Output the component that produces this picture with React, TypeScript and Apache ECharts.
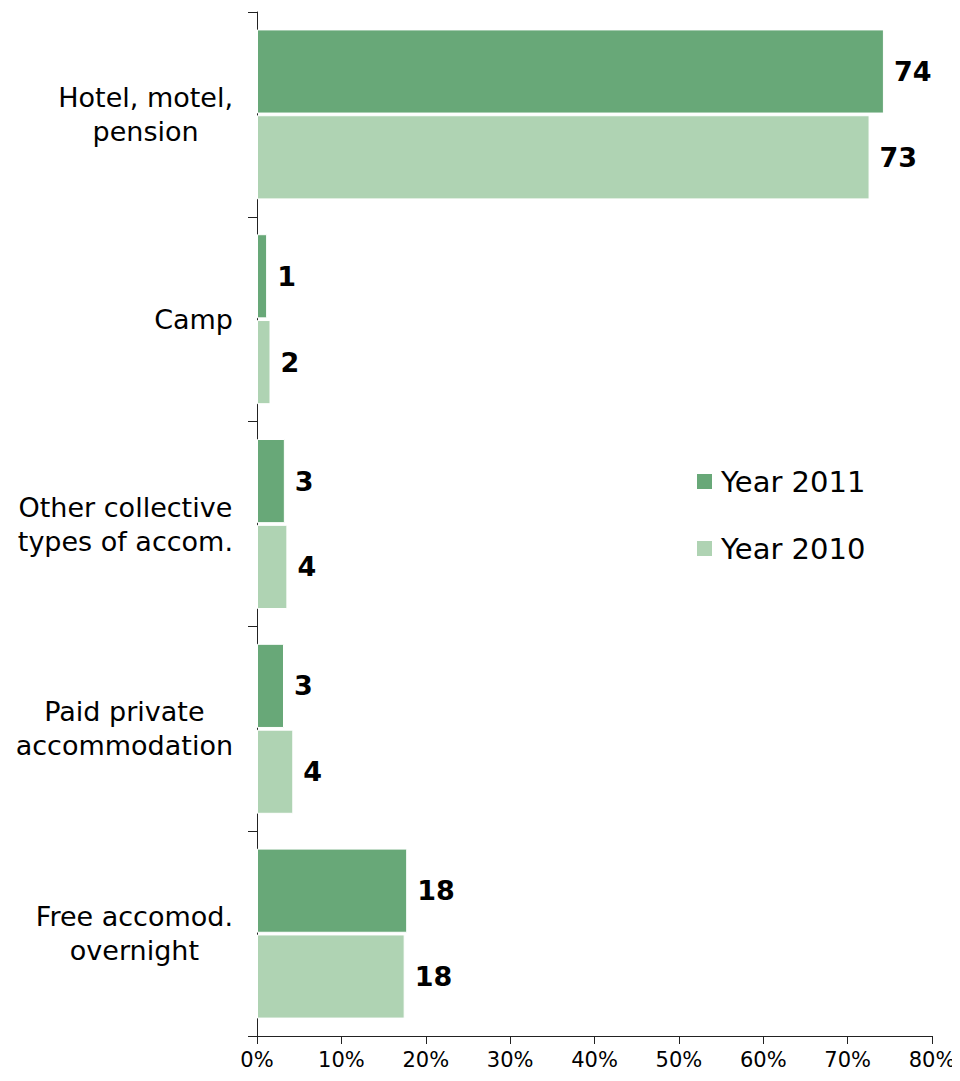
import React, { useEffect, useRef } from "react";
import * as echarts from "echarts";

const categories = [
  "Hotel, motel,\npension",
  "Camp",
  "Other collective\ntypes of accom.",
  "Paid private\naccommodation",
  "Free accomod.\novernight",
];
const year2011 = [74.3, 1.2, 3.3, 3.2, 17.8];
const year2010 = [72.6, 1.6, 3.6, 4.3, 17.5];
const xTicks = [0, 10, 20, 30, 40, 50, 60, 70, 80];

const FONT = "DejaVu Sans, Verdana, sans-serif";

export default function App() {
  const ref = useRef<HTMLDivElement>(null);
  useEffect(() => {
    if (!ref.current) return;
    const chart = echarts.init(ref.current, undefined, { renderer: "svg" });
    const labelOpt = {
      show: true,
      position: "right",
      distance: 10,
      fontFamily: FONT,
      fontSize: 27,
      fontWeight: "bold",
      color: "#000",
      formatter: (p: any) => String(Math.round(p.value)),
    };
    chart.setOption({
      animation: false,
      textStyle: { fontFamily: FONT },
      grid: { left: 249, right: 28, top: 4, bottom: 37, outerBoundsMode: "none", containLabel: false },
      legend: {
        orient: "vertical",
        left: 682,
        top: 454,
        itemWidth: 17,
        itemHeight: 17,
        itemGap: 38,
        icon: "rect",
        textStyle: { fontFamily: FONT, fontSize: 29, color: "#000", padding: [0, 0, 0, 3] },
        data: ["Year 2011", "Year 2010"],
      },
      xAxis: {
        type: "value",
        min: xTicks[0],
        max: xTicks[xTicks.length - 1],
        interval: 10,
        splitLine: { show: false },
        axisLine: { show: true, lineStyle: { color: "#222", width: 1 } },
        axisTick: { show: true, length: 8, lineStyle: { color: "#222" } },
        axisLabel: {
          fontFamily: FONT,
          fontSize: 21,
          color: "#000",
          margin: 13,
          formatter: (v: number) => v + "%",
        },
      },
      yAxis: {
        type: "category",
        inverse: true,
        data: categories,
        axisLine: { show: true, lineStyle: { color: "#222", width: 1 } },
        axisTick: { show: true, length: 9, lineStyle: { color: "#222" } },
        axisLabel: {
          margin: 24,
          color: "#000",
          fontFamily: FONT,
          fontSize: 27,
          lineHeight: 34,
          formatter: (v: string) =>
            v
              .split("\n")
              .map((s) => "{a|" + s + "}")
              .join("\n"),
          rich: {
            a: {
              align: "center",
              fontFamily: FONT,
              fontSize: 27,
              lineHeight: 34,
              color: "#000",
            },
          },
        },
      },
      series: [
        {
          name: "Year 2011",
          type: "bar",
          data: year2011,
          barCategoryGap: "17%",
          barGap: "2%",
          itemStyle: { color: "#68a878", borderColor: "#fff", borderWidth: 1 },
          label: labelOpt,
        },
        {
          name: "Year 2010",
          type: "bar",
          data: year2010,
          itemStyle: { color: "#afd3b3", borderColor: "#fff", borderWidth: 1 },
          label: labelOpt,
        },
      ],
    });
    return () => chart.dispose();
  }, []);
  return (
    <div style={{ width: 944, height: 1065, overflow: "visible" }}>
      <div ref={ref} style={{ width: 952, height: 1065 }} />
    </div>
  );
}
